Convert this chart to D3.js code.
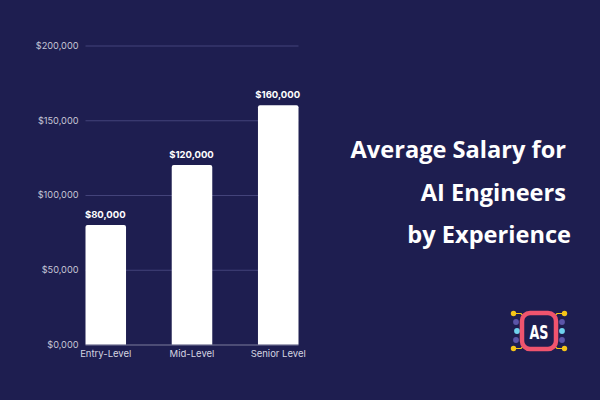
<!DOCTYPE html>
<html>
<head>
<meta charset="utf-8">
<script src="https://cdn.jsdelivr.net/npm/d3@7"></script>
<style>
html, body { margin: 0; padding: 0; background: #1e1e50; }
svg { display: block; }
</style>
</head>
<body>
<div id="chart"></div>
<script>
var levels = ["Entry-Level", "Mid-Level", "Senior Level"];
var salaries = [80000, 120000, 160000];
var yTicks = [0, 50000, 100000, 150000, 200000];
var yTickLabels = ["$0,000", "$50,000", "$100,000", "$150,000", "$200,000"];
var titleLines = ["Average Salary for", "AI Engineers", "by Experience"];

var svg = d3.select("#chart").append("svg")
    .attr("width", 600)
    .attr("height", 400);

svg.append("rect")
    .attr("width", 600)
    .attr("height", 400)
    .attr("fill", "#1e1e50");

var x = d3.scaleBand()
    .domain(levels)
    .range([85.5, 298.5])
    .paddingInner(0.53)
    .paddingOuter(0);

var y = d3.scaleLinear()
    .domain([0, 200000])
    .range([344.5, 45.5]);

var money = d3.format("$,");

// gridlines + tick labels come from the axis
var yAxis = svg.append("g")
    .attr("transform", "translate(85.5,0)")
    .call(d3.axisLeft(y)
        .tickValues(yTicks)
        .tickFormat(function (d, i) { return yTickLabels[i]; })
        .tickSize(0)
        .tickPadding(7));
yAxis.select(".domain").remove();
yAxis.selectAll("text")
    .attr("fill", "#c6c6d6")
    .style("font-family", "Inter")
    .style("font-size", "9.2px");
yAxis.selectAll(".tick").append("line")
    .attr("x1", 0)
    .attr("x2", 213)
    .attr("stroke", function (d) { return d === 0 ? "#7d7d9c" : "#43437a"; })
    .attr("stroke-width", 1);

var xAxis = svg.append("g")
    .attr("transform", "translate(0,344.5)")
    .call(d3.axisBottom(x).tickSize(0).tickPadding(6));
xAxis.select(".domain").remove();
xAxis.selectAll("text")
    .attr("fill", "#d4d4e0")
    .style("font-family", "Inter")
    .style("font-size", "9.5px");

var data = d3.zip(levels, salaries);

svg.selectAll(".bar")
    .data(data)
    .enter().append("path")
    .attr("class", "bar")
    .attr("fill", "#ffffff")
    .attr("d", function (d) {
        var x0 = x(d[0]), x1 = x0 + x.bandwidth(), top = y(d[1]), r = 2;
        return "M" + x0 + "," + y(0) + "V" + (top + r) + "Q" + x0 + "," + top + " " + (x0 + r) + "," + top +
            "H" + (x1 - r) + "Q" + x1 + "," + top + " " + x1 + "," + (top + r) + "V" + y(0) + "Z";
    });

svg.selectAll(".value")
    .data(data)
    .enter().append("text")
    .attr("class", "value")
    .attr("x", function (d) { return x(d[0]) + x.bandwidth() / 2 - 0.5; })
    .attr("y", function (d) { return y(d[1]) - 7; })
    .attr("text-anchor", "middle")
    .attr("fill", "#ffffff")
    .style("font-family", "Inter")
    .style("font-weight", 700)
    .style("font-size", "9.5px")
    .text(function (d) { return money(d[1]); });

// title, right aligned, trailing gap on the first two lines like the original
var titleRight = [566, 566, 571];
var titleBase = [158, 201, 243];
svg.selectAll(".title")
    .data(titleLines)
    .enter().append("text")
    .attr("class", "title")
    .attr("x", function (d, i) { return titleRight[i]; })
    .attr("y", function (d, i) { return titleBase[i]; })
    .attr("text-anchor", "end")
    .attr("fill", "#ffffff")
    .style("font-family", "'Open Sans'")
    .style("font-weight", 700)
    .style("font-size", "23.6px")
    .text(function (d) { return d; });

// logo
var logo = svg.append("g").attr("transform", "translate(539,331)");
var wires = [[-1, -1], [1, -1], [-1, 1], [1, 1]];
logo.selectAll(".wire")
    .data(wires)
    .enter().append("path")
    .attr("class", "wire")
    .attr("fill", "none")
    .attr("stroke", "#f5c518")
    .attr("stroke-width", 1.2)
    .attr("d", function (d) {
        return "M" + d[0] * 14 + "," + d[1] * 13 + "L" + d[0] * 18 + "," + d[1] * 17.5 + "H" + d[0] * 25;
    });
logo.selectAll(".pin")
    .data(wires)
    .enter().append("circle")
    .attr("class", "pin")
    .attr("cx", function (d) { return d[0] * 25.5; })
    .attr("cy", function (d) { return d[1] * 17.5; })
    .attr("r", 2.7)
    .attr("fill", "#f5c518");
var dots = [[-23, -9, "#5b55a8"], [-22, 0, "#6fd3ee"], [-23, 9, "#5b55a8"], [23, -9, "#5b55a8"], [23, 0, "#6fd3ee"], [23, 9, "#5b55a8"]];
logo.selectAll(".dot")
    .data(dots)
    .enter().append("circle")
    .attr("class", "dot")
    .attr("cx", function (d) { return d[0]; })
    .attr("cy", function (d) { return d[1]; })
    .attr("r", 2.9)
    .attr("fill", function (d) { return d[2]; });
logo.append("rect")
    .attr("x", -17).attr("y", -18)
    .attr("width", 34).attr("height", 36)
    .attr("rx", 8)
    .attr("fill", "#1e1e50")
    .attr("stroke", "#f0546e")
    .attr("stroke-width", 4.5);
logo.append("text")
    .attr("y", 7.5)
    .attr("text-anchor", "middle")
    .attr("fill", "#ffffff")
    .style("font-family", "'DejaVu Sans'")
    .style("font-weight", 700)
    .style("font-size", "20px")
    .attr("textLength", 19)
    .attr("lengthAdjust", "spacingAndGlyphs")
    .text("AS");
</script>
</body>
</html>
